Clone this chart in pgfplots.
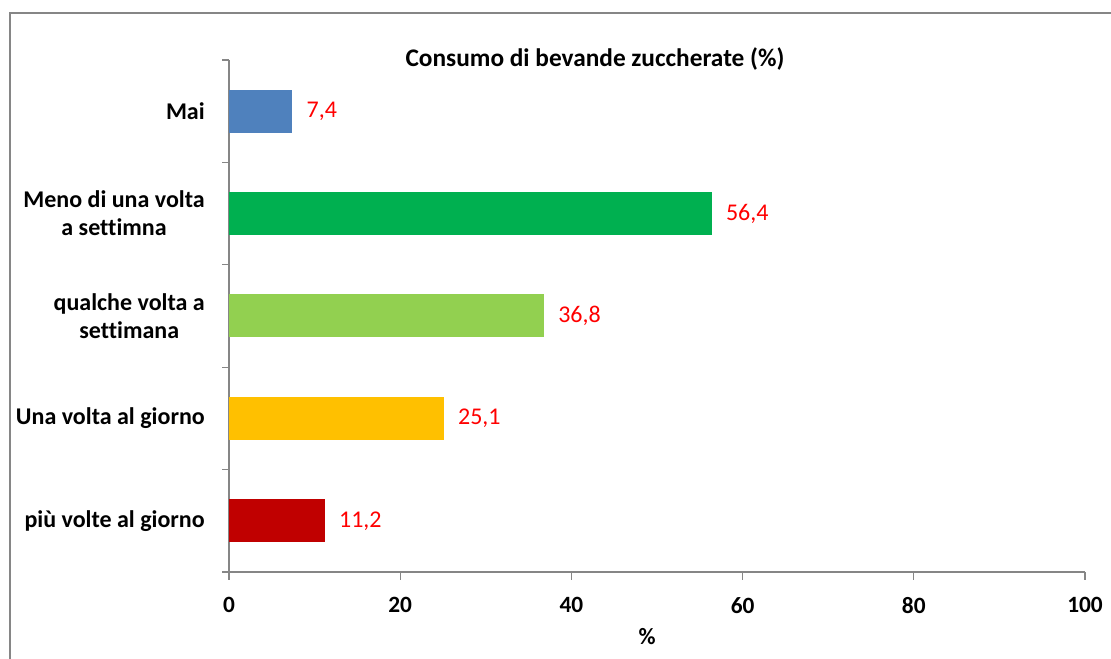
\documentclass[border=0pt]{standalone}
\usepackage{pgfplots}
\pgfplotsset{compat=1.18}
\usepackage{fontspec}
\setmainfont{Carlito}[Ligatures=NoCommon]
\definecolor{cMai}{HTML}{4F81BD}
\definecolor{cMeno}{HTML}{00B050}
\definecolor{cQual}{HTML}{92D050}
\definecolor{cUna}{HTML}{FFC000}
\definecolor{cPiu}{HTML}{C00000}
\definecolor{axgray}{HTML}{868686}
\definecolor{lblred}{HTML}{FF0000}
\begin{document}
\begin{tikzpicture}
\draw[axgray, line width=1.3pt] (7.5pt,-20pt) rectangle (860pt,484.5pt);
\begin{axis}[
  at={(171.75pt,65.25pt)}, anchor=south west,
  scale only axis, width=642pt, height=384pt,
  xmin=0, xmax=100, ymin=-0.5, ymax=4.5,
  axis x line*=bottom, axis y line*=left,
  axis line style={axgray, line width=0.9pt, -},
  xtick={0,20,...,100},
  ytick={0,1,2,3,4},
  yticklabels={più volte al giorno, Una volta al giorno, {qualche volta a\\settimana}, {Meno di una volta\\a settimna}, Mai},
  minor ytick={-0.5,0.5,1.5,2.5,3.5,4.5},
  tick align=outside,
  major tick length=6pt, minor tick length=5.25pt,
  major y tick style={draw=none},
  minor y tick style={axgray, line width=0.9pt},
  major x tick style={axgray, line width=0.9pt},
  /pgf/number format/assume math mode=true,
  xticklabel style={font=\bfseries\fontsize{17.5}{21}\selectfont, inner sep=0pt, yshift=-13pt},
  yticklabel style={font=\bfseries\fontsize{18}{21}\selectfont, align=center, inner sep=0pt, xshift=-12pt},
  xbar, bar width=0.42, bar shift=0pt,
  every node near coord/.append style={font=\fontsize{18}{21}\selectfont, text=lblred, anchor=west, inner sep=0pt, xshift=10.5pt},
]
\addplot[fill=cMai, draw=none, nodes near coords={7,4}] coordinates {(7.4,4)};
\addplot[fill=cMeno, draw=none, nodes near coords={56,4}] coordinates {(56.4,3)};
\addplot[fill=cQual, draw=none, nodes near coords={36,8}] coordinates {(36.8,2)};
\addplot[fill=cUna, draw=none, nodes near coords={25,1}] coordinates {(25.1,1)};
\addplot[fill=cPiu, draw=none, nodes near coords={11,2}] coordinates {(11.2,0)};
\end{axis}
\node[font=\bfseries\fontsize{19}{22}\selectfont] at (446.25pt,450pt) {Consumo di bevande zuccherate (\%)};
\node[font=\bfseries\fontsize{17.5}{21}\selectfont] at (485.25pt,16.5pt) {\%};
\pgfresetboundingbox
\useasboundingbox (0,0) rectangle (833.25pt,494.25pt);
\end{tikzpicture}
\end{document}
